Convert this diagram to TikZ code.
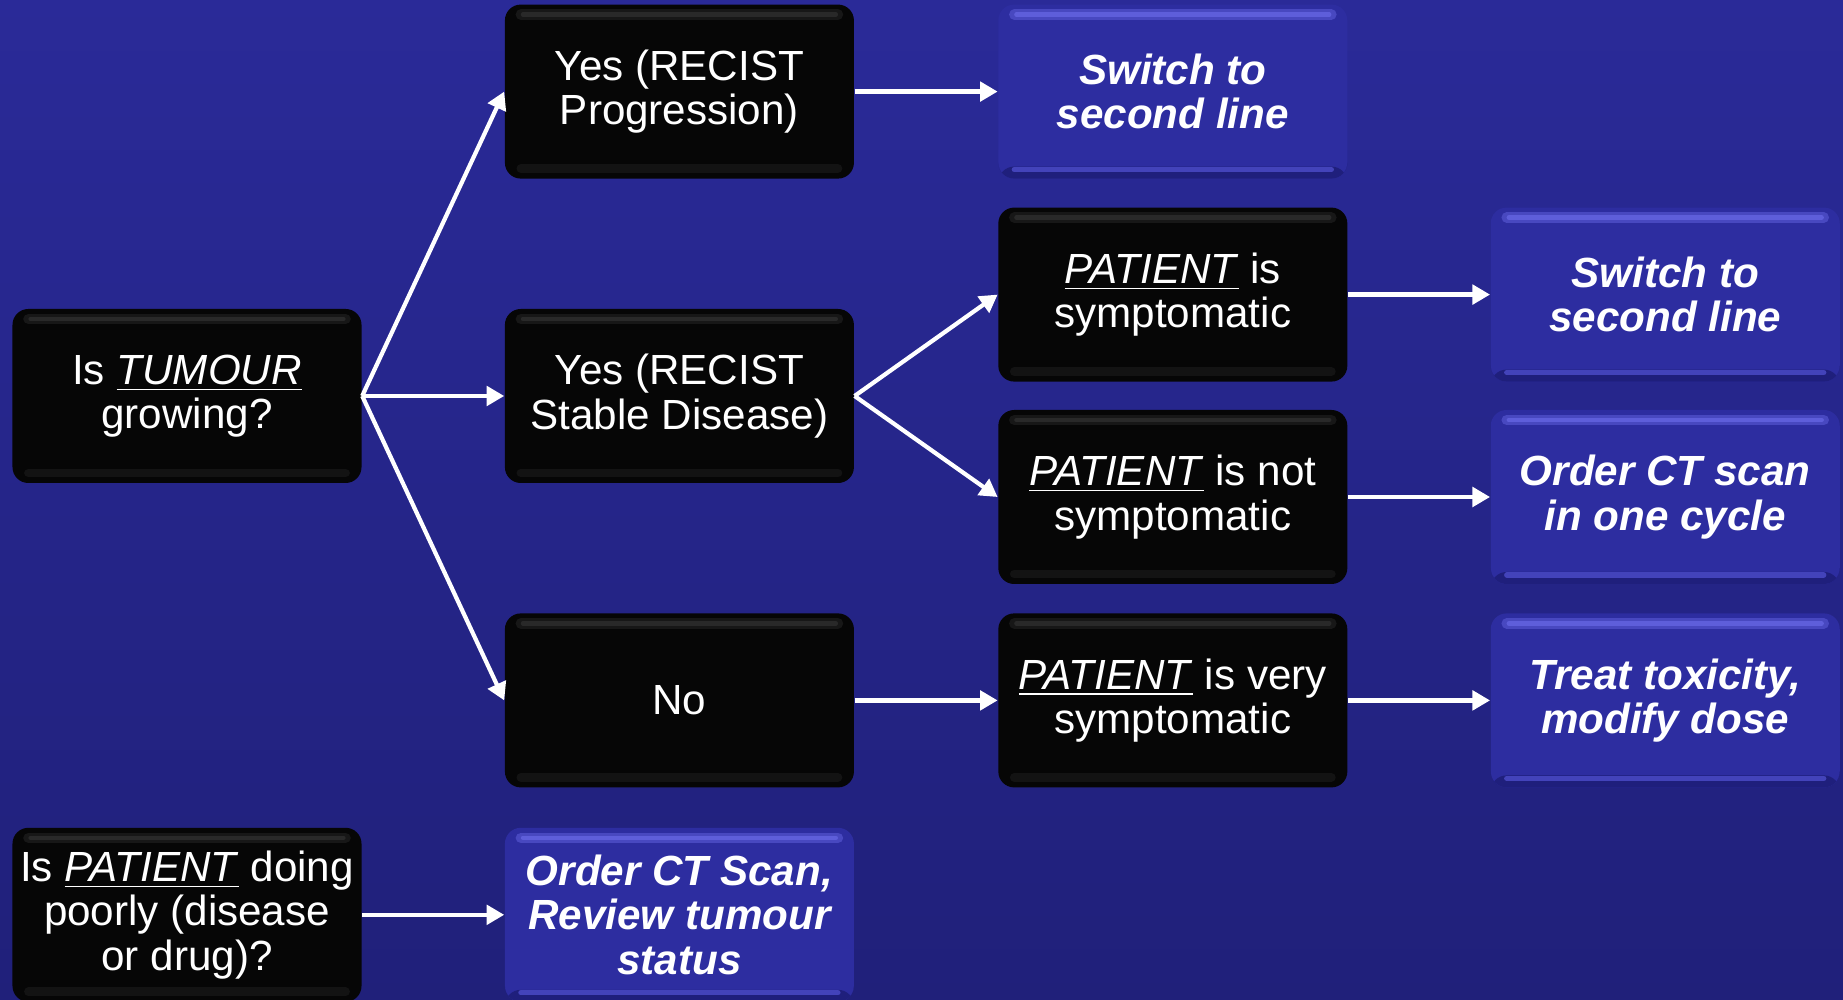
\documentclass[tikz,border=0pt]{standalone}
\usepackage{fontspec}
\setmainfont{Liberation Sans}
\usepackage{xcolor}
\usetikzlibrary{positioning, arrows.meta}

\definecolor{bgtop}{HTML}{2A2A98}
\definecolor{bgmid}{HTML}{3535CC}
\definecolor{bgbot}{HTML}{20207A}
\definecolor{boxblue}{HTML}{2D2DA0}
\definecolor{boxdeep}{HTML}{1F1F7C}
\definecolor{boxshine}{HTML}{5E5EDA}
\definecolor{boxblack}{HTML}{060606}

\begin{document}
\begin{tikzpicture}[
    boxbase/.style={rounded corners=4.5pt, minimum width=3.49cm, minimum height=1.74cm, inner sep=2pt, align=center, text=white, font=\fontsize{12}{12.6}\selectfont},
    darkbox/.style={boxbase, fill=boxblack, path picture={
        \draw[line width=3pt, line cap=round, gray!18!black] ([xshift=0.16cm,yshift=-0.1cm]path picture bounding box.north west) -- ([xshift=-0.16cm,yshift=-0.1cm]path picture bounding box.north east);
        \draw[line width=1.2pt, line cap=round, gray!32!black] ([xshift=0.18cm,yshift=-0.1cm]path picture bounding box.north west) -- ([xshift=-0.18cm,yshift=-0.1cm]path picture bounding box.north east);
        \draw[line width=2.5pt, line cap=round, gray!15!black] ([xshift=0.16cm,yshift=0.1cm]path picture bounding box.south west) -- ([xshift=-0.16cm,yshift=0.1cm]path picture bounding box.south east);}},
    bluebox/.style={boxbase, fill=boxblue, font=\fontsize{12}{12.6}\selectfont\bfseries\itshape, path picture={
        \fill[boxdeep] (path picture bounding box.south west) rectangle ([yshift=0.12cm]path picture bounding box.south east);
        \draw[line width=1.5pt, line cap=round, boxshine!45!boxblue] ([xshift=0.16cm,yshift=0.09cm]path picture bounding box.south west) -- ([xshift=-0.16cm,yshift=0.09cm]path picture bounding box.south east);
        \draw[line width=3pt, line cap=round, boxshine!55!boxblue] ([xshift=0.16cm,yshift=-0.1cm]path picture bounding box.north west) -- ([xshift=-0.16cm,yshift=-0.1cm]path picture bounding box.north east);
        \draw[line width=1.2pt, line cap=round, boxshine] ([xshift=0.18cm,yshift=-0.1cm]path picture bounding box.north west) -- ([xshift=-0.18cm,yshift=-0.1cm]path picture bounding box.north east);}},
    arr/.style={-{Triangle[length=5pt,width=5.5pt]}, line width=1.2pt, white},
]
    % background
    \shade[top color=bgtop, middle color=bgmid, bottom color=bgbot] (0,0) rectangle (18.43,9.99);
    \useasboundingbox (0,0) rectangle (18.43,9.99);

    % --- first question ---
    \node (tumour) [darkbox] at (1.87,6.03) {Is \underline{\textit{TUMOUR}}\\ growing?};
    \node (stable) [darkbox, right=1.42cm of tumour] {Yes (RECIST\\ Stable Disease)};
    \node (progr) [darkbox, above=1.29cm of stable] {Yes (RECIST\\ Progression)};
    \node (nogrow) [darkbox, below=1.29cm of stable] {No};

    % --- patient state ---
    \node (verysymp) [darkbox, right=1.43cm of nogrow] {\underline{\textit{PATIENT}} is very\\ symptomatic};
    \node (notsymp) [darkbox, above=0.28cm of verysymp] {\underline{\textit{PATIENT}} is not\\ symptomatic};
    \node (symp) [darkbox, above=0.27cm of notsymp] {\underline{\textit{PATIENT}} is\\ symptomatic};
    \node (switchA) [bluebox, right=1.43cm of progr] {Switch to\\ second line};

    % --- actions ---
    \node (switchB) [bluebox, right=1.42cm of symp] {Switch to\\ second line};
    \node (ctcycle) [bluebox, right=1.42cm of notsymp] {Order CT scan\\ in one cycle};
    \node (toxic) [bluebox, right=1.42cm of verysymp] {Treat toxicity,\\ modify dose};

    % --- second question ---
    \node (ctscan) [bluebox, below=0.39cm of nogrow] {Order CT Scan,\\ Review tumour\\ status};
    \node (poorly) [darkbox, left=1.42cm of ctscan] {Is \underline{\textit{PATIENT}} doing\\ poorly (disease\\ or drug)?};

    % arrows
    \draw[arr] (tumour.east) -- (progr.west);
    \draw[arr] (tumour.east) -- (stable.west);
    \draw[arr] (tumour.east) -- (nogrow.west);
    \draw[arr] (progr) -- (switchA);
    \draw[arr] (stable.east) -- (symp.west);
    \draw[arr] (stable.east) -- (notsymp.west);
    \draw[arr] (nogrow) -- (verysymp);
    \draw[arr] (symp) -- (switchB);
    \draw[arr] (notsymp) -- (ctcycle);
    \draw[arr] (verysymp) -- (toxic);
    \draw[arr] (poorly) -- (ctscan);

\end{tikzpicture}
\end{document}
